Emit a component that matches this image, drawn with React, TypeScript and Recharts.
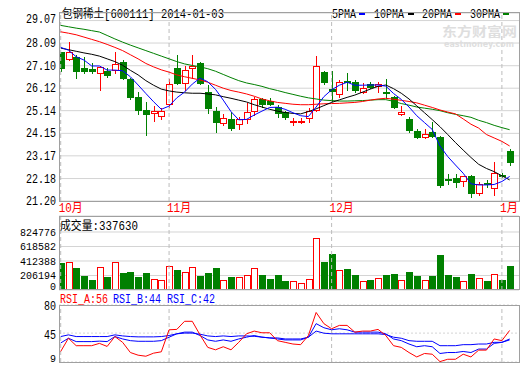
import React from 'react';
import { ComposedChart, BarChart, LineChart, Bar, Line, XAxis, YAxis, CartesianGrid, ReferenceLine } from 'recharts';

// trading days shown (2013-10-14 .. 2014-01-03)
const days = [
  '2013-10-14', '2013-10-15', '2013-10-16', '2013-10-17', '2013-10-18', '2013-10-21', '2013-10-22', '2013-10-23', '2013-10-24', '2013-10-25',
  '2013-10-28', '2013-10-29', '2013-10-30', '2013-10-31', '2013-11-01', '2013-11-04', '2013-11-05', '2013-11-06', '2013-11-07', '2013-11-08',
  '2013-11-11', '2013-11-12', '2013-11-13', '2013-11-14', '2013-11-15', '2013-11-18', '2013-11-19', '2013-11-20', '2013-11-21', '2013-11-22',
  '2013-11-25', '2013-11-26', '2013-11-27', '2013-11-28', '2013-11-29', '2013-12-02', '2013-12-03', '2013-12-04', '2013-12-05', '2013-12-06',
  '2013-12-09', '2013-12-10', '2013-12-11', '2013-12-12', '2013-12-13', '2013-12-16', '2013-12-17', '2013-12-18', '2013-12-19', '2013-12-20',
  '2013-12-23', '2013-12-24', '2013-12-25', '2013-12-26', '2013-12-27', '2013-12-30', '2013-12-31', '2014-01-02', '2014-01-03',
];

const open = [27.68, 27.39, 27.49, 26.98, 26.95, 26.8, 26.88, 26.91, 27.27, 26.5, 25.72, 25.15, 25.02, 24.92, 25.43, 26.98, 26.36, 26.98, 27.2, 25.94,
  25.13, 24.62, 24.76, 24.56, 24.76, 25.13, 25.63, 25.58, 25.31, 25.07, 24.63, 24.63, 24.83, 25.17, 26.81, 26.07, 25.87, 26.43, 26.4, 25.97,
  26.3, 26.21, 25.95, 25.75, 25.0, 24.79, 24.27, 23.98, 24.23, 24.01, 22.17, 22.19, 22.09, 22.29, 21.57, 22.0, 21.76, 22.34, 23.38];
const high = [27.7, 28.15, 27.56, 27.46, 27.2, 27.09, 26.98, 27.71, 27.35, 26.55, 25.94, 25.53, 25.36, 25.24, 26.52, 27.56, 27.1, 27.56, 27.27, 26.26,
  25.31, 24.98, 25.07, 24.88, 25.46, 25.72, 25.71, 25.68, 25.39, 25.14, 24.83, 24.81, 25.24, 27.52, 26.88, 26.87, 26.48, 26.77, 26.48, 26.33,
  26.4, 26.4, 26.5, 25.78, 25.34, 24.85, 24.33, 24.33, 24.63, 24.04, 22.38, 22.37, 22.27, 22.32, 22.05, 22.12, 22.88, 22.41, 23.47];
const low = [26.88, 27.35, 26.58, 26.77, 26.77, 26.04, 26.62, 26.77, 26.52, 25.65, 24.98, 24.08, 24.7, 24.79, 25.31, 26.29, 26.04, 26.55, 26.29, 25.02,
  24.23, 24.52, 24.3, 24.34, 24.59, 24.95, 25.31, 25.39, 24.85, 24.76, 24.52, 24.59, 24.66, 25.14, 26.29, 25.56, 25.75, 26.04, 25.97, 25.89,
  26.11, 25.97, 25.68, 25.24, 24.95, 24.23, 23.93, 23.93, 24.01, 21.79, 21.95, 21.83, 21.86, 21.39, 21.47, 21.8, 21.47, 22.24, 22.77];
const close = [27.01, 27.71, 26.88, 26.87, 26.87, 27.03, 26.69, 27.16, 26.58, 25.75, 25.17, 24.99, 25.11, 25.14, 26.29, 26.33, 26.91, 27.09, 26.33, 25.24,
  24.63, 24.84, 24.37, 24.76, 25.1, 25.65, 25.43, 25.43, 25.02, 24.85, 24.7, 24.7, 25.14, 27.1, 26.4, 26.01, 26.4, 26.37, 26.04, 26.11,
  26.16, 26.29, 25.89, 25.31, 25.07, 24.3, 23.98, 24.12, 24.05, 21.9, 22.12, 22.02, 22.27, 21.57, 21.95, 21.93, 22.41, 22.29, 22.92];

const ma5 = [27.9, 27.78, 27.49, 27.35, 27.09, 27.09, 26.91, 26.91, 26.88, 26.62, 26.26, 25.89, 25.53, 25.2, 25.34, 25.7, 25.95, 26.3, 26.56, 26.4,
  26.07, 25.6, 25.1, 24.74, 24.76, 24.95, 25.12, 25.28, 25.29, 25.2, 25.05, 24.92, 24.88, 25.3, 25.75, 26.05, 26.25, 26.38, 26.25, 26.25,
  26.26, 26.26, 26.21, 25.89, 25.63, 25.3, 24.92, 24.62, 24.32, 23.6, 23.14, 22.77, 22.41, 21.95, 21.9, 21.9, 21.92, 22.05, 22.27];
const ma10 = [27.87, 27.8, 27.73, 27.66, 27.6, 27.52, 27.4, 27.28, 27.12, 26.9, 26.7, 26.45, 26.25, 26.08, 26.0, 25.95, 25.92, 25.9, 25.9, 25.87,
  25.83, 25.75, 25.68, 25.6, 25.52, 25.4, 25.3, 25.2, 25.12, 25.06, 25.02, 25.0, 25.1, 25.22, 25.36, 25.5, 25.61, 25.72, 25.82, 25.95,
  26.08, 26.2, 26.26, 26.1, 25.9, 25.65, 25.35, 25.05, 24.75, 24.44, 24.1, 23.75, 23.42, 23.1, 22.8, 22.62, 22.48, 22.3, 22.12];
const ma20 = [28.58, 28.52, 28.45, 28.35, 28.25, 28.15, 28.03, 27.9, 27.76, 27.58, 27.4, 27.2, 27.05, 26.92, 26.82, 26.7, 26.62, 26.55, 26.48, 26.38,
  26.25, 26.12, 26.02, 25.95, 25.87, 25.77, 25.65, 25.57, 25.5, 25.46, 25.42, 25.4, 25.4, 25.42, 25.44, 25.45, 25.46, 25.48, 25.5, 25.54,
  25.6, 25.65, 25.68, 25.64, 25.59, 25.54, 25.48, 25.38, 25.28, 25.17, 25.08, 25.0, 24.78, 24.55, 24.38, 24.1, 23.95, 23.8, 23.6];
const ma30 = [28.86, 28.8, 28.74, 28.69, 28.63, 28.57, 28.42, 28.27, 28.13, 28.0, 27.88, 27.76, 27.64, 27.52, 27.4, 27.28, 27.18, 27.11, 27.05, 26.97,
  26.86, 26.72, 26.58, 26.45, 26.35, 26.28, 26.2, 26.1, 26.02, 25.93, 25.85, 25.77, 25.7, 25.65, 25.6, 25.58, 25.56, 25.56, 25.57, 25.58,
  25.6, 25.62, 25.62, 25.55, 25.45, 25.38, 25.3, 25.25, 25.2, 25.14, 25.05, 24.98, 24.92, 24.85, 24.72, 24.62, 24.5, 24.4, 24.31];

const volume = [388120, 398450, 316300, 195240, 137180, 321560, 181330, 398270, 239410, 253060, 181720, 239150, 152640, 137390, 336210, 282480, 253170, 321940, 195360, 239580,
  311020, 148260, 181490, 181150, 220330, 307610, 210470, 152380, 210190, 123540, 123280, 94130, 152760, 741250, 398640, 514380, 278520, 297140, 210850, 123170,
  137460, 166290, 210630, 224180, 137250, 253390, 195710, 137580, 195120, 499260, 210340, 181560, 123480, 224920, 166070, 123610, 224370, 137830, 337630];

const rsiA = [22.1, 38.6, 29.3, 29.3, 29.3, 32.2, 28.4, 40.7, 33.5, 20.8, 17.5, 16.2, 20.0, 21.7, 49.1, 49.6, 59.7, 59.7, 42.8, 27.2,
  24.2, 28.0, 24.2, 33.5, 44.1, 47.5, 45.4, 45.4, 35.6, 33.5, 31.4, 30.6, 42.0, 70.7, 56.8, 50.4, 54.6, 54.6, 46.2, 47.5,
  47.5, 49.6, 42.0, 29.3, 27.2, 20.8, 15.3, 19.6, 18.7, 9.5, 12.4, 12.4, 18.7, 15.3, 23.8, 23.8, 37.7, 35.6, 48.3];
const rsiB = [32.7, 38.6, 34.4, 34.4, 34.4, 35.0, 34.4, 40.7, 37.7, 35.6, 34.8, 34.8, 34.8, 35.6, 39.9, 44.1, 46.2, 46.2, 42.0, 36.5,
  34.8, 36.5, 34.8, 37.7, 39.9, 42.0, 39.9, 39.0, 37.7, 36.5, 36.5, 36.5, 39.9, 56.8, 51.7, 49.1, 50.4, 49.1, 46.2, 46.2,
  46.2, 46.2, 44.1, 37.7, 35.6, 31.4, 28.0, 29.3, 28.0, 19.6, 20.8, 20.8, 22.1, 20.8, 25.1, 25.1, 32.2, 33.5, 37.7];
const rsiC = [40.7, 42.8, 40.7, 40.7, 40.7, 40.7, 40.7, 42.8, 41.5, 40.7, 40.3, 40.3, 40.3, 40.7, 42.0, 44.1, 45.0, 45.0, 43.6, 41.5,
  40.7, 41.5, 40.7, 41.5, 41.5, 41.0, 40.0, 39.0, 39.0, 37.7, 37.7, 37.7, 39.9, 47.5, 44.9, 44.1, 44.1, 44.1, 44.1, 44.1,
  44.1, 44.1, 43.2, 39.9, 38.6, 35.6, 34.8, 34.8, 34.8, 29.3, 29.3, 29.3, 30.6, 30.6, 31.4, 31.4, 33.5, 33.5, 36.5];

const priceTicks = [21.2, 22.18, 23.17, 24.15, 25.14, 26.12, 27.1, 28.09, 29.07];
const volTicks = [0, 206194, 412388, 618582, 824776];
const rsiTicks = [9, 45, 80];

const RED = '#ff0000';
const GREEN = '#008000';
const BLUE = '#0000ff';
const FRAME = '#a0a0a0';
const GRID = '#d4d4d4';
const DASH = '#bcbcbc';
const FONT = "'Liberation Mono', 'Noto Sans CJK SC', monospace";
const X_DOMAIN = [-0.22, 59.21];

const rows = days.map((d, i) => ({
  i, date: d, open: open[i], high: high[i], low: low[i], close: close[i],
  ma5: ma5[i], ma10: ma10[i], ma20: ma20[i], ma30: ma30[i],
  vol: volume[i], up: close[i] > open[i], rsiA: rsiA[i], rsiB: rsiB[i], rsiC: rsiC[i],
}));

const monthTicks = days.map((d, i) => (i === 0 || d.slice(5, 7) !== days[i - 1].slice(5, 7) ? i : -1)).filter((i) => i >= 0);

// SimSun-like widths: 6px per latin char, 12px per CJK char
function Txt({ x, y, text, fill = '#000', anchor = 'start', size = 12 }: any) {
  let len = 0;
  for (const ch of text) len += ch.charCodeAt(0) > 255 ? 12 : 6;
  return (
    <text x={x} y={y} fill={fill} fontSize={size} fontFamily={FONT} textAnchor={anchor}
      textLength={len} lengthAdjust="spacingAndGlyphs">{text}</text>
  );
}

function Candle(props: any) {
  const { x, y, width, height, payload } = props;
  if (x == null || payload == null) return null;
  const top = Math.min(y, y + height);
  const h = Math.abs(height);
  const span = payload.high - payload.low;
  const k = span > 0 ? h / span : 0;
  const py = (v: number) => top + (payload.high - v) * k;
  const left = Math.round(x + width / 2 - 3);
  const wx = left + 3.5;
  const bTop = Math.round(py(Math.max(payload.open, payload.close)));
  const bBot = Math.max(bTop + 1, Math.round(py(Math.min(payload.open, payload.close))));
  const color = payload.up ? RED : GREEN;
  return (
    <g>
      <line x1={wx} x2={wx} y1={Math.round(top)} y2={Math.round(top + h) + 1} stroke={color} strokeWidth={1} />
      {payload.up ? (
        <rect x={left + 0.5} y={bTop + 0.5} width={6} height={Math.max(bBot - bTop, 1)} fill="#fff" stroke={color} strokeWidth={1} />
      ) : (
        <rect x={left} y={bTop} width={7} height={Math.max(bBot - bTop + 1, 1)} fill={color} />
      )}
    </g>
  );
}

function VolBar(props: any) {
  const { x, y, width, height, payload } = props;
  if (x == null || payload == null) return null;
  const left = Math.round(x + width / 2 - 3);
  const top = Math.round(y);
  const bot = Math.round(y + height);
  return payload.up ? (
    <rect x={left + 0.5} y={top + 0.5} width={6} height={Math.max(bot - top - 1, 1)} fill="#fff" stroke={RED} strokeWidth={1} />
  ) : (
    <rect x={left} y={top} width={7} height={Math.max(bot - top, 1)} fill={GREEN} />
  );
}

const PriceTick = (props: any) => {
  const { y, payload } = props;
  const v = payload.value;
  const dy = v === 29.07 ? -2 : 0;
  return <Txt x={56} y={y + dy + 4} anchor="end" text={v.toFixed(2)} />;
};

const VolTick = (props: any) => {
  const { y, payload } = props;
  const v = payload.value;
  const dy = v === 0 ? -4 : 0;
  return <Txt x={56} y={y + dy + 4} anchor="end" size={11} text={String(v)} />;
};

const RsiTick = (props: any) => {
  const { y, payload } = props;
  const v = payload.value;
  const dy = v === 80 ? 1 : v === 9 ? -4 : 2;
  return <Txt x={56} y={y + dy + 4} anchor="end" size={v === 9 ? 11 : 12} text={String(v)} />;
};

const MonthTick = (props: any) => {
  const { x, payload } = props;
  const m = Number(days[payload.value].slice(5, 7));
  return <Txt x={x - 2} y={212} fill={RED} text={`${m}月`} />;
};

const monthLines = (chartKey: string) =>
  monthTicks.map((t) => (
    <ReferenceLine key={`${chartKey}-${t}`} x={t} stroke={DASH} strokeDasharray="4 3" ifOverflow="extendDomain" />
  ));

export default function App() {
  return (
    <div style={{ position: 'absolute', left: 0, top: 0, width: 520, height: 365, background: '#fff', overflow: 'hidden' }}>
      <div style={{ position: 'absolute', left: 0, top: 0 }}>
        <ComposedChart width={520} height={216} data={rows} margin={{ top: 13, right: 1, bottom: 0, left: 0 }}>
          <CartesianGrid vertical={false} stroke={GRID} />
          <XAxis type="number" dataKey="i" domain={X_DOMAIN} ticks={monthTicks} interval={0} height={15}
            axisLine={false} tickLine={false} tick={<MonthTick />} allowDataOverflow />
          <YAxis domain={[21.2, 29.4]} ticks={priceTicks} width={59} axisLine={false} tickLine={false}
            tick={<PriceTick />} allowDataOverflow interval={0} />
          {monthLines('p')}
          <Bar dataKey={(d: any) => [d.low, d.high]} barSize={6} shape={<Candle />} isAnimationActive={false} />
          <Line type="linear" dataKey="ma30" stroke={GREEN} strokeWidth={1} dot={false} isAnimationActive={false} />
          <Line type="linear" dataKey="ma20" stroke={RED} strokeWidth={1} dot={false} isAnimationActive={false} />
          <Line type="linear" dataKey="ma10" stroke="#000" strokeWidth={1} dot={false} isAnimationActive={false} />
          <Line type="linear" dataKey="ma5" stroke={BLUE} strokeWidth={1} dot={false} isAnimationActive={false} />
        </ComposedChart>
      </div>

      <div style={{ position: 'absolute', left: 0, top: 210 }}>
        <BarChart width={520} height={86} data={rows} margin={{ top: 6, right: 1, bottom: 6, left: 0 }}>
          <CartesianGrid vertical={false} stroke={GRID} />
          <XAxis type="number" dataKey="i" domain={X_DOMAIN} hide allowDataOverflow />
          <YAxis domain={[0, 1052300]} ticks={volTicks} width={59} axisLine={false} tickLine={false}
            tick={<VolTick />} allowDataOverflow interval={0} />
          {monthLines('v')}
          <Bar dataKey="vol" barSize={6} shape={<VolBar />} isAnimationActive={false} />
        </BarChart>
      </div>

      <div style={{ position: 'absolute', left: 0, top: 298 }}>
        <LineChart width={520} height={67} data={rows} margin={{ top: 7, right: 1, bottom: 3, left: 0 }}>
          <CartesianGrid vertical={false} stroke={GRID} strokeDasharray="2 2" />
          <XAxis type="number" dataKey="i" domain={X_DOMAIN} hide allowDataOverflow />
          <YAxis domain={[9, 80]} ticks={rsiTicks} width={59} axisLine={false} tickLine={false}
            tick={<RsiTick />} allowDataOverflow interval={0} />
          {monthLines('r')}
          <Line type="linear" dataKey="rsiC" stroke={BLUE} strokeWidth={1} dot={false} isAnimationActive={false} />
          <Line type="linear" dataKey="rsiB" stroke={BLUE} strokeWidth={1} dot={false} isAnimationActive={false} />
          <Line type="linear" dataKey="rsiA" stroke={RED} strokeWidth={1} dot={false} isAnimationActive={false} />
        </LineChart>
      </div>

      <svg width={520} height={365} style={{ position: 'absolute', left: 0, top: 0, pointerEvents: 'none' }}>
        <text x={442} y={36} fill="#dedede" fontSize={13} fontWeight="bold" fontFamily="'Noto Sans CJK SC'"
          textLength={75} lengthAdjust="spacingAndGlyphs">东方财富网</text>
        <text x={444} y={47} fill="#dedede" fontSize={8} fontWeight="bold" fontFamily="'DejaVu Sans'"
          textLength={70} lengthAdjust="spacingAndGlyphs">eastmoney.com</text>

        <Txt x={62} y={18} text="包钢稀土[600111] 2014-01-03" />
        <Txt x={332} y={18} text="5PMA" />
        <rect x={359} y={12} width={6} height={3} fill={BLUE} />
        <Txt x={374} y={18} text="10PMA" />
        <rect x={408} y={12} width={6} height={3} fill="#000" />
        <Txt x={422} y={18} text="20PMA" />
        <rect x={455} y={12} width={6} height={3} fill={RED} />
        <Txt x={470} y={18} text="30PMA" />
        <rect x={503} y={12} width={6} height={3} fill={GREEN} />

        <Txt x={60} y={230} text="成交量:337630" />
        <Txt x={60} y={303} fill={RED} text="RSI_A:56" />
        <Txt x={113} y={303} fill={BLUE} text="RSI_B:44" />
        <Txt x={167} y={303} fill={BLUE} text="RSI_C:42" />

        <rect x={59.5} y={12.5} width={460} height={189} fill="none" stroke={FRAME} />
        <rect x={59.5} y={216.5} width={460} height={73} fill="none" stroke={FRAME} />
        <rect x={59.5} y={305.5} width={460} height={57} fill="none" stroke={FRAME} />
      </svg>
    </div>
  );
}
